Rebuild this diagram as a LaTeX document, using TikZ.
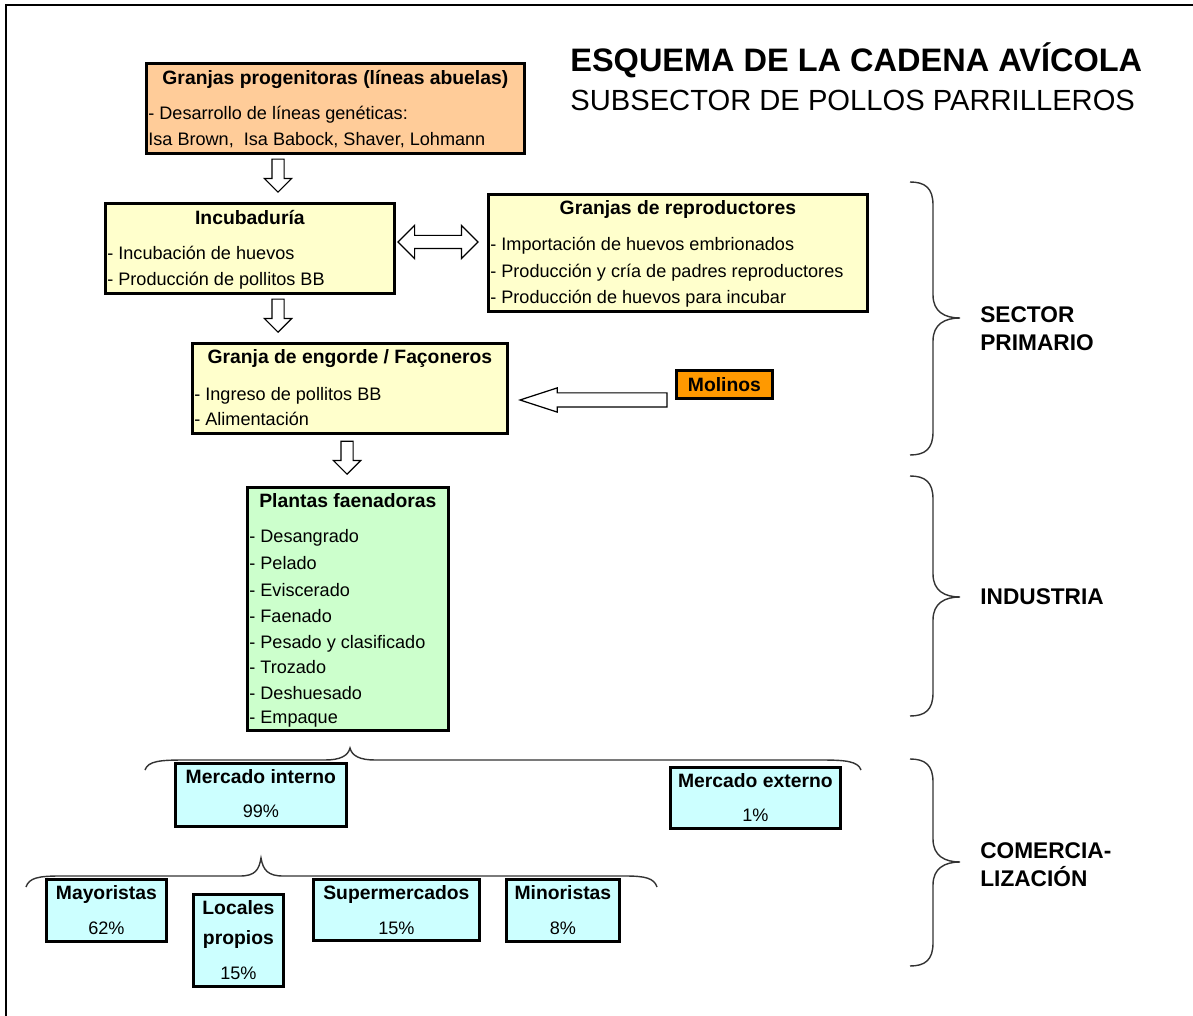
\documentclass[tikz,border=0pt]{standalone}
\usepackage{fontspec}
\setmainfont{Liberation Sans}
\usetikzlibrary{calc,shapes.arrows}

\definecolor{progfill}{HTML}{FFCC99}
\definecolor{yelfill}{HTML}{FFFFCC}
\definecolor{molfill}{HTML}{FF9900}
\definecolor{grnfill}{HTML}{CCFFCC}
\definecolor{cyafill}{HTML}{CCFFFF}

\tikzset{
  box/.style={draw, line width=1.6pt, inner sep=0pt, anchor=north west},
  boxtitle/.style={anchor=mid, inner sep=0pt, yshift=-0.05cm, font=\fontsize{11}{13}\selectfont\bfseries},
  item/.style={anchor=mid west, inner sep=0pt, yshift=-0.05cm, font=\fontsize{10.3}{12}\selectfont},
  pct/.style={anchor=mid, inner sep=0pt, yshift=-0.05cm, font=\fontsize{10.3}{12}\selectfont},
  sidelabel/.style={anchor=west, inner sep=0pt, align=left, font=\fontsize{12.9}{16}\selectfont\bfseries},
  hollow/.style={draw, line width=0.7pt, fill=white, inner xsep=0pt},
  brace/.style={draw, line width=0.8pt, black!80},
}

\begin{document}
\begin{tikzpicture}[x=0.02cm, y=-0.02cm]
  \useasboundingbox (0,0) rectangle (1193,1016);

  % Frame
  \draw [line width=1.1pt] (6,1016) -- (6,5) -- (1193,5);

  % Heading
  \node [anchor=mid west, inner sep=0pt, font=\fontsize{18.5}{22}\selectfont\bfseries] (head) at (570,67) {ESQUEMA DE LA CADENA AVÍCOLA};
  \node [anchor=mid west, inner sep=0pt, font=\fontsize{16.6}{20}\selectfont] (subhead) at (570,106) {SUBSECTOR DE POLLOS PARRILLEROS};

  % Granjas progenitoras
  \node [box, fill=progfill, minimum width=7.56cm, minimum height=1.8cm] (prog) at (145,62) {};
  \node [boxtitle] at ($(prog.north)+(0,15)$) {Granjas progenitoras (líneas abuelas)};
  \node [item] at ($(prog.north west)+(3,50)$) {- Desarrollo de líneas genéticas:};
  \node [item] at ($(prog.north west)+(3,76)$) {Isa Brown,\ \ Isa Babock, Shaver, Lohmann};

  % Incubaduria
  \node [box, fill=yelfill, minimum width=5.78cm, minimum height=1.8cm] (incu) at (104,202) {};
  \node [boxtitle] at ($(incu.north)+(0,15)$) {Incubaduría};
  \node [item] at ($(incu.north west)+(3,50)$) {- Incubación de huevos};
  \node [item] at ($(incu.north west)+(3,76)$) {- Producción de pollitos BB};

  % Granjas de reproductores
  \node [box, fill=yelfill, minimum width=7.58cm, minimum height=2.34cm] (repro) at (487,193) {};
  \node [boxtitle] at ($(repro.north)+(0,14)$) {Granjas de reproductores};
  \node [item] at ($(repro.north west)+(3,50)$) {- Importación de huevos embrionados};
  \node [item] at ($(repro.north west)+(3,77)$) {- Producción y cría de padres reproductores};
  \node [item] at ($(repro.north west)+(3,103)$) {- Producción de huevos para incubar};

  % Granja de engorde
  \node [box, fill=yelfill, minimum width=6.3cm, minimum height=1.8cm] (engorde) at (191,342) {};
  \node [boxtitle] at ($(engorde.north)+(0,14)$) {Granja de engorde / Façoneros};
  \node [item] at ($(engorde.north west)+(3,51)$) {- Ingreso de pollitos BB};
  \node [item] at ($(engorde.north west)+(3,76)$) {- Alimentación};

  % Molinos
  \node [box, fill=molfill, minimum width=1.92cm, minimum height=0.56cm] (molinos) at (675,369) {};
  \node [boxtitle] at (molinos.center) {Molinos};

  % Plantas faenadoras
  \node [box, fill=grnfill, minimum width=4.02cm, minimum height=4.86cm] (plantas) at (246,486) {};
  \node [boxtitle] at ($(plantas.north)+(0,14)$) {Plantas faenadoras};
  \node [item] at ($(plantas.north west)+(3,49)$) {- Desangrado};
  \node [item] at ($(plantas.north west)+(3,76)$) {- Pelado};
  \node [item] at ($(plantas.north west)+(3,103)$) {- Eviscerado};
  \node [item] at ($(plantas.north west)+(3,129)$) {- Faenado};
  \node [item] at ($(plantas.north west)+(3,155)$) {- Pesado y clasificado};
  \node [item] at ($(plantas.north west)+(3,180)$) {- Trozado};
  \node [item] at ($(plantas.north west)+(3,206)$) {- Deshuesado};
  \node [item] at ($(plantas.north west)+(3,230)$) {- Empaque};

  % Mercados
  \node [box, fill=cyafill, minimum width=3.42cm, minimum height=1.26cm] (mint) at (174,762) {};
  \node [boxtitle] at ($(mint.north)+(0,14)$) {Mercado interno};
  \node [pct] at ($(mint.north)+(0,48)$) {99\%};
  \node [box, fill=cyafill, minimum width=3.4cm, minimum height=1.22cm] (mext) at (669,766) {};
  \node [boxtitle] at ($(mext.north)+(0,14)$) {Mercado externo};
  \node [pct] at ($(mext.north)+(0,48)$) {1\%};

  % Canales
  \node [box, fill=cyafill, minimum width=2.4cm, minimum height=1.24cm] (mayo) at (45,878) {};
  \node [boxtitle] at ($(mayo.north)+(0,14)$) {Mayoristas};
  \node [pct] at ($(mayo.north)+(0,49)$) {62\%};
  \node [box, fill=cyafill, minimum width=1.8cm, minimum height=1.84cm] (locales) at (192,893) {};
  \node [boxtitle] at ($(locales.north)+(0,14)$) {Locales};
  \node [boxtitle] at ($(locales.north)+(0,44)$) {propios};
  \node [pct] at ($(locales.north)+(0,79)$) {15\%};
  \node [box, fill=cyafill, minimum width=3.32cm, minimum height=1.22cm] (super) at (312,878) {};
  \node [boxtitle] at ($(super.north)+(0,14)$) {Supermercados};
  \node [pct] at ($(super.north)+(0,49)$) {15\%};
  \node [box, fill=cyafill, minimum width=2.26cm, minimum height=1.24cm] (mino) at (505,878) {};
  \node [boxtitle] at ($(mino.north)+(0,14)$) {Minoristas};
  \node [pct] at ($(mino.north)+(0,49)$) {8\%};

  % Hollow arrows
  \node [hollow, single arrow, rotate=-90, anchor=tip, minimum height=0.66cm, inner ysep=0.11cm, single arrow head extend=0.15cm] (arr1) at (278,193) {};
  \node [hollow, single arrow, rotate=-90, anchor=tip, minimum height=0.66cm, inner ysep=0.11cm, single arrow head extend=0.15cm] (arr2) at (278,333) {};
  \node [hollow, single arrow, rotate=-90, anchor=tip, minimum height=0.66cm, inner ysep=0.11cm, single arrow head extend=0.15cm] (arr3) at (347,475) {};
  \node [hollow, double arrow, minimum height=1.6cm, inner ysep=0.12cm, double arrow head extend=0.2cm] (arr4) at (438,242) {};
  \node [hollow, single arrow, rotate=180, anchor=tip, minimum height=2.94cm, inner ysep=0.13cm, single arrow head extend=0.1cm, single arrow tip angle=36] (arr5) at (518,400) {};

  % Brace over mercados
  \draw [brace] (145,770) .. controls (148,761) and (160,760) .. (185,760) -- (325,760)
    .. controls (340,760) and (348,756) .. (350,748) .. controls (352,756) and (360,760) .. (375,760)
    -- (820,760) .. controls (845,760) and (858,761) .. (861,770);

  % Brace over canales
  \draw [brace] (26,887) .. controls (29,878) and (38,876) .. (60,876) -- (240,876)
    .. controls (255,876) and (259,870) .. (261,858) .. controls (263,870) and (268,876) .. (283,876)
    -- (625,876) .. controls (645,876) and (654,878) .. (657,887);

  % Brace sector primario
  \draw [brace] (910,182) .. controls (925,182) and (933,188) .. (933,205) -- (933,295)
    .. controls (933,312) and (945,318) .. (960,318) .. controls (945,318) and (933,324) .. (933,341)
    -- (933,432) .. controls (933,449) and (925,455) .. (910,455);
  \node [sidelabel] (primario) at (980,329) {SECTOR\\PRIMARIO};

  % Brace industria
  \draw [brace] (910,476) .. controls (925,476) and (933,482) .. (933,499) -- (933,574)
    .. controls (933,591) and (945,597) .. (960,597) .. controls (945,597) and (933,603) .. (933,620)
    -- (933,693) .. controls (933,710) and (925,716) .. (910,716);
  \node [sidelabel] (industria) at (980,597) {INDUSTRIA};

  % Brace comercializacion
  \draw [brace] (910,759) .. controls (925,759) and (933,765) .. (933,782) -- (933,839)
    .. controls (933,856) and (945,862) .. (960,862) .. controls (945,862) and (933,868) .. (933,885)
    -- (933,943) .. controls (933,960) and (925,966) .. (910,966);
  \node [sidelabel] (comercial) at (980,865) {COMERCIA-\\LIZACIÓN};
\end{tikzpicture}
\end{document}
